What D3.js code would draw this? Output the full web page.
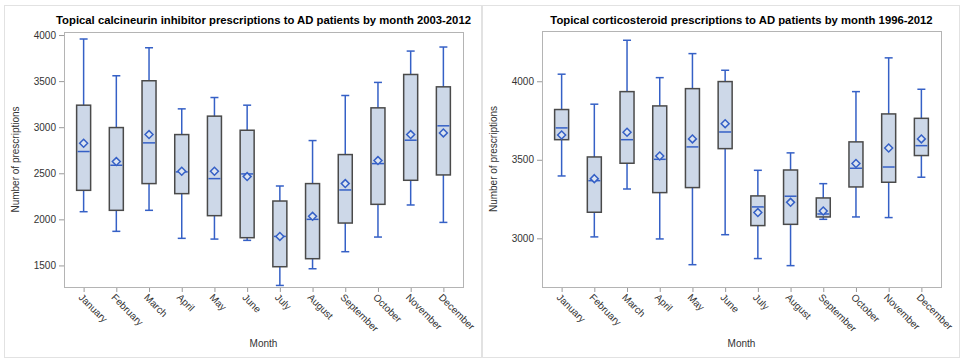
<!DOCTYPE html>
<html>
<head>
<meta charset="utf-8">
<script src="https://cdn.jsdelivr.net/npm/d3@7"></script>
<style>
  body { margin: 0; background: #fff; }
  svg { display: block; font-family: "Liberation Sans", Arial, sans-serif; }
</style>
</head>
<body>
<div id="chart"></div>
<script>
// month categories
const months = ["January", "February", "March", "April", "May", "June",
    "July", "August", "September", "October", "November", "December"];

// topical calcineurin inhibitor, 2003-2012
const tciMin    = [2083, 1870, 2098, 1794, 1786, 1772, 1283, 1464, 1649, 1808, 2156, 1967];
const tciQ1     = [2315, 2098, 2388, 2279, 2040, 1801, 1486, 1573, 1960, 2163, 2424, 2482];
const tciMedian = [2736, 2587, 2830, 2515, 2442, 2493, 1815, 2000, 2319, 2605, 2859, 3015];
const tciQ3     = [3239, 2996, 3504, 2920, 3120, 2967, 2199, 2388, 2703, 3210, 3572, 3438];
const tciMax    = [3957, 3558, 3862, 3199, 3322, 3239, 2362, 2855, 3344, 3486, 3826, 3870];
const tciMean   = [2826, 2627, 2920, 2522, 2522, 2464, 1815, 2033, 2388, 2638, 2920, 2938];
const tciTicks  = [1500, 2000, 2500, 3000, 3500, 4000];

// topical corticosteroid, 1996-2012
const tcsMin    = [3397, 3009, 3314, 2996, 2832, 3023, 2871, 2826, 3121, 3136, 3132, 3389];
const tcsQ1     = [3628, 3166, 3478, 3291, 3323, 3571, 3081, 3089, 3136, 3327, 3357, 3527];
const tcsMedian = [3703, 3367, 3628, 3503, 3582, 3677, 3200, 3268, 3155, 3446, 3454, 3590];
const tcsQ3     = [3820, 3518, 3934, 3843, 3953, 3998, 3270, 3435, 3257, 3614, 3792, 3764];
const tcsMax    = [4045, 3854, 4261, 4023, 4176, 4070, 3433, 3544, 3348, 3934, 4149, 3949];
const tcsMean   = [3658, 3380, 3675, 3524, 3633, 3730, 3164, 3229, 3174, 3476, 3575, 3633];
const tcsTicks  = [3000, 3500, 4000];

const svg = d3.select("#chart").append("svg")
    .attr("width", 966)
    .attr("height", 361);

function drawPanel(opts) {
    let g = svg.append("g");

    // panel border
    g.append("rect")
        .attr("x", opts.panel[0] + 0.5).attr("y", 5.5)
        .attr("width", opts.panel[1] - opts.panel[0]).attr("height", 352)
        .attr("fill", "none").attr("stroke", "#e2e2e2");

    let left = opts.plot.left, right = opts.plot.right,
        top = opts.plot.top, bottom = opts.plot.bottom;

    let x = d3.scalePoint()
        .domain(months)
        .range([left, right])
        .padding(0.6);

    let y = d3.scaleLinear()
        .domain(opts.yDomain)
        .range([bottom, top]);

    let rows = months.map((m, i) => ({
        month: m, min: opts.min[i], q1: opts.q1[i], median: opts.median[i],
        q3: opts.q3[i], max: opts.max[i], mean: opts.mean[i]
    }));

    // y axis
    let yAxis = g.append("g")
        .attr("transform", `translate(${left},0)`)
        .call(d3.axisLeft(y).tickValues(opts.ticks).tickFormat(d3.format("d"))
            .tickSize(5).tickPadding(3).tickSizeOuter(0));
    yAxis.select(".domain").remove();
    yAxis.selectAll("line").attr("stroke", "#9a9a9a");
    yAxis.selectAll("text").attr("fill", "#333").style("font-size", "10px");

    // x axis
    let xAxis = g.append("g")
        .attr("transform", `translate(0,${bottom})`)
        .call(d3.axisBottom(x).tickSize(5).tickSizeOuter(0));
    xAxis.select(".domain").remove();
    xAxis.selectAll("line").attr("stroke", "#9a9a9a");
    xAxis.selectAll("text")
        .attr("fill", "#333")
        .style("font-size", "10px")
        .attr("text-anchor", "start")
        .attr("dy", null)
        .attr("y", 0)
        .attr("transform", "translate(-6,11) rotate(45)");

    // plot frame
    g.append("rect")
        .attr("x", left + 0.5).attr("y", top + 0.5)
        .attr("width", right - left).attr("height", bottom - top)
        .attr("fill", "none").attr("stroke", "#b4b4b4");

    let boxW = 14, capW = 8;
    let blue = "#3560c6";
    let boxes = g.selectAll(".box").data(rows).join("g")
        .attr("transform", d => `translate(${x(d.month)},0)`);

    // whiskers
    boxes.append("line")
        .attr("y1", d => y(d.max)).attr("y2", d => y(d.min))
        .attr("stroke", blue).attr("stroke-width", 1.5);
    boxes.append("line")
        .attr("x1", -capW / 2).attr("x2", capW / 2)
        .attr("y1", d => y(d.max)).attr("y2", d => y(d.max))
        .attr("stroke", blue).attr("stroke-width", 1.5);
    boxes.append("line")
        .attr("x1", -capW / 2).attr("x2", capW / 2)
        .attr("y1", d => y(d.min)).attr("y2", d => y(d.min))
        .attr("stroke", blue).attr("stroke-width", 1.5);

    // box
    boxes.append("rect")
        .attr("x", -boxW / 2)
        .attr("y", d => y(d.q3))
        .attr("width", boxW)
        .attr("height", d => y(d.q1) - y(d.q3))
        .attr("fill", "#cdd8e8")
        .attr("stroke", "#4a4a4a")
        .attr("stroke-width", 1.5);

    // median
    boxes.append("line")
        .attr("x1", -boxW / 2 + 1).attr("x2", boxW / 2 - 1)
        .attr("y1", d => y(d.median)).attr("y2", d => y(d.median))
        .attr("stroke", blue).attr("stroke-width", 1.5);

    // mean marker
    boxes.append("path")
        .attr("d", d3.symbol(d3.symbolDiamond2, 40))
        .attr("transform", d => `translate(0,${y(d.mean)})`)
        .attr("fill", "#dde5f1")
        .attr("stroke", blue)
        .attr("stroke-width", 1.5);

    // title
    g.append("text")
        .attr("x", (left + right) / 2).attr("y", 24)
        .attr("text-anchor", "middle")
        .style("font-size", "11.3px").style("font-weight", "bold")
        .attr("fill", "#000")
        .text(opts.title);

    // axis labels
    g.append("text")
        .attr("transform", `translate(${left - 45},${(top + bottom) / 2}) rotate(-90)`)
        .attr("text-anchor", "middle")
        .style("font-size", "10px").attr("fill", "#333")
        .text("Number of prescriptions");
    g.append("text")
        .attr("x", (left + right) / 2).attr("y", 347)
        .attr("text-anchor", "middle")
        .style("font-size", "10px").attr("fill", "#333")
        .text("Month");
}

drawPanel({
    panel: [4, 481],
    plot: { left: 64, right: 463, top: 32, bottom: 287 },
    yDomain: [1266, 4033],
    ticks: tciTicks,
    min: tciMin, q1: tciQ1, median: tciMedian, q3: tciQ3, max: tciMax, mean: tciMean,
    title: "Topical calcineurin inhibitor prescriptions to AD patients by month 2003-2012"
});

drawPanel({
    panel: [482, 959],
    plot: { left: 542, right: 941, top: 31, bottom: 287 },
    yDomain: [2690, 4320],
    ticks: tcsTicks,
    min: tcsMin, q1: tcsQ1, median: tcsMedian, q3: tcsQ3, max: tcsMax, mean: tcsMean,
    title: "Topical corticosteroid prescriptions to AD patients by month 1996-2012"
});
</script>
</body>
</html>
